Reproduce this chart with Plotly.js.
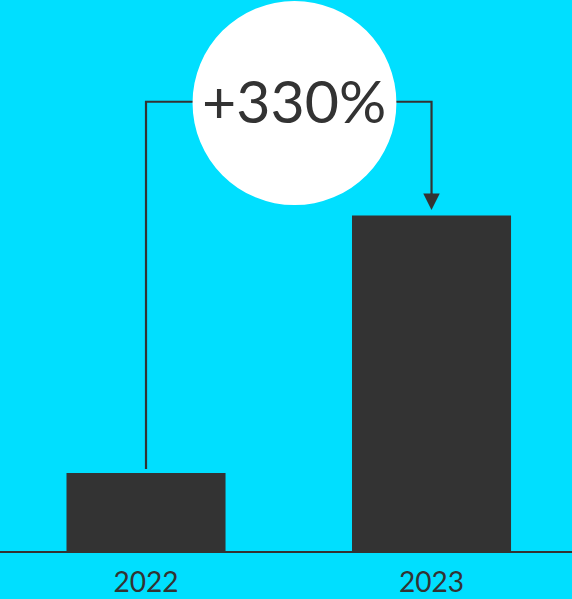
<!DOCTYPE html>
<html>
<head>
<meta charset="utf-8">
<script src="https://cdn.plot.ly/plotly-3.0.1.min.js"></script>
<style>html,body{margin:0;padding:0;background:#00DFFF;}#chart{width:572px;height:599px;}</style>
</head>
<body>
<div id="chart"></div>
<script>
const years = ["2022", "2023"];
const values = [1, 4.3];
const changeLabel = "+330%";

const ink = "#333333";
const bg = "#00DFFF";
const fontFam = "Lato";
const connY = 5.756;           // height of the connector line (data units)
const circleX = 0.52, circleY = 5.74;

const trace = {
  type: "bar",
  x: [0, 1],
  y: values,
  width: 0.557,
  marker: {color: ink, line: {width: 0}},
  hoverinfo: "skip"
};

const layout = {
  width: 572, height: 599,
  paper_bgcolor: bg, plot_bgcolor: bg,
  margin: {l: 0, r: 0, t: 0, b: 48},
  showlegend: false,
  xaxis: {
    range: [-0.5114, 1.492],
    tickvals: [0, 1], ticktext: years,
    showgrid: false, zeroline: false,
    showline: true, linecolor: ink, linewidth: 2,
    ticks: "", ticklabelstandoff: 5,
    tickfont: {family: fontFam, size: 28, color: ink},
    fixedrange: true
  },
  yaxis: {
    range: [0, 7.06], visible: false, fixedrange: true
  },
  shapes: [
    {type: "path", xref: "x", yref: "y",
     path: `M 0,${values[0] + 0.05} L 0,${connY} L ${circleX},${connY}`,
     line: {color: ink, width: 2.2}},
    {type: "path", xref: "x", yref: "y",
     path: `M ${circleX},${connY} L 1,${connY} L 1,${values[1] + 0.2}`,
     line: {color: ink, width: 2.2}},
    {type: "circle", xref: "x", yref: "y",
     x0: circleX - 0.357, x1: circleX + 0.357,
     y0: circleY - 1.308, y1: circleY + 1.308,
     fillcolor: "#ffffff", line: {width: 0}}
  ],
  annotations: [
    {x: 1, y: values[1] + 0.07, ax: 1, ay: values[1] + 0.3,
     xref: "x", yref: "y", axref: "x", ayref: "y",
     text: "", showarrow: true, arrowhead: 2, arrowsize: 1.5,
     arrowwidth: 2.2, arrowcolor: ink, standoff: 0},
    {x: circleX, y: circleY, xref: "x", yref: "y", yshift: 3,
     text: changeLabel, showarrow: false,
     font: {family: fontFam, size: 59, color: ink}}
  ]
};

Plotly.newPlot("chart", [trace], layout, {displayModeBar: false, staticPlot: true});
</script>
</body>
</html>
